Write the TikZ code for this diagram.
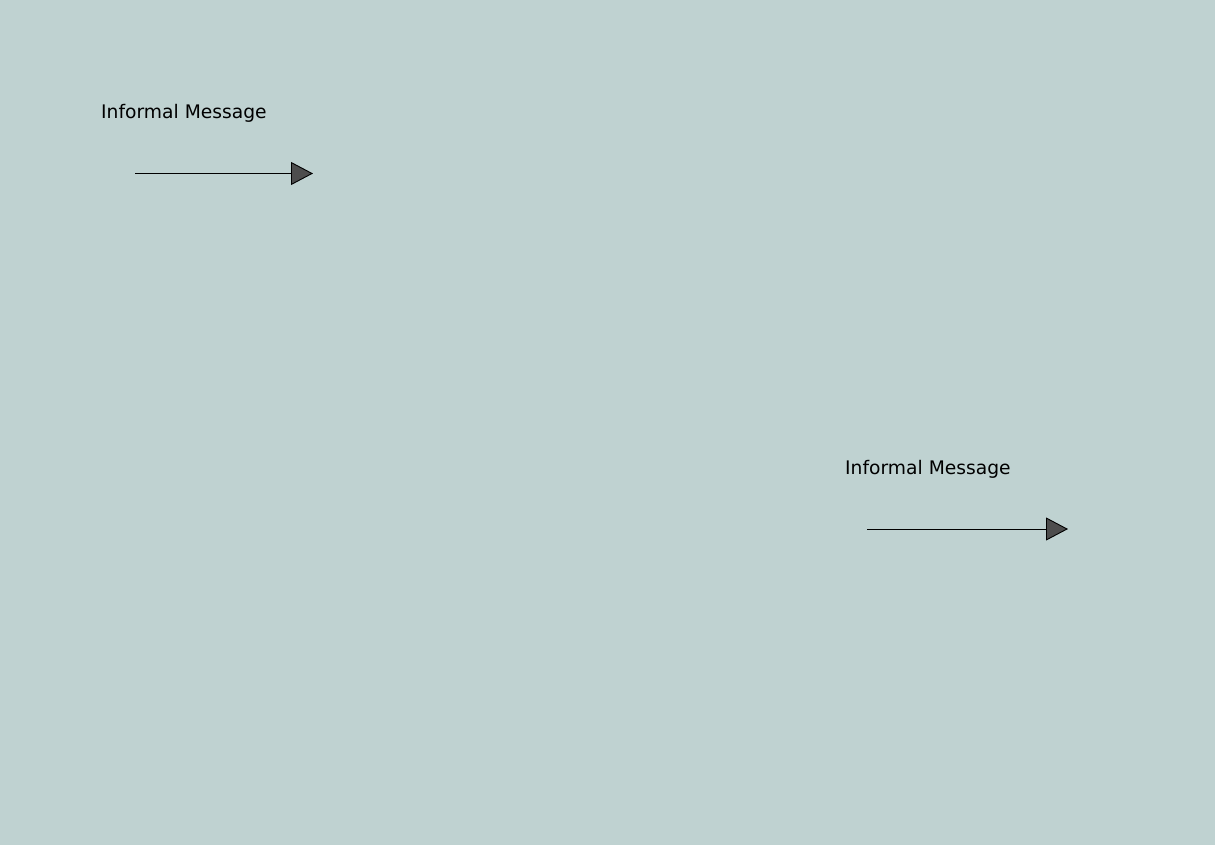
\documentclass[tikz,border=0pt]{standalone}
\usepackage{fontspec}
\setmainfont{DejaVu Sans}
\usetikzlibrary{arrows.meta}

\definecolor{canvasbg}{RGB}{191,210,209}
\definecolor{tipgray}{RGB}{77,77,77}

\begin{document}
\begin{tikzpicture}[
    x=1pt, y=-1pt,
    msglbl/.style={anchor=base west, inner sep=0pt, font=\fontsize{18.7}{22}\selectfont},
    msg/.style={line width=0.9pt, draw=black,
                -{Triangle[length=22pt, width=23pt, fill=tipgray]}},
  ]

  \useasboundingbox (0,0) rectangle (1231,861);
  \fill[canvasbg] (0,0) rectangle (1215,845);

  % first message
  \node[msglbl] (lblA) at (101,118.5) {Informal Message};
  \coordinate (srcA) at (135,173.5);
  \coordinate (dstA) at (313,173.5);
  \draw[msg] (srcA) -- (dstA);

  % second message
  \node[msglbl] (lblB) at (845,474) {Informal Message};
  \coordinate (srcB) at (867,529);
  \coordinate (dstB) at (1068,529);
  \draw[msg] (srcB) -- (dstB);

\end{tikzpicture}
\end{document}
